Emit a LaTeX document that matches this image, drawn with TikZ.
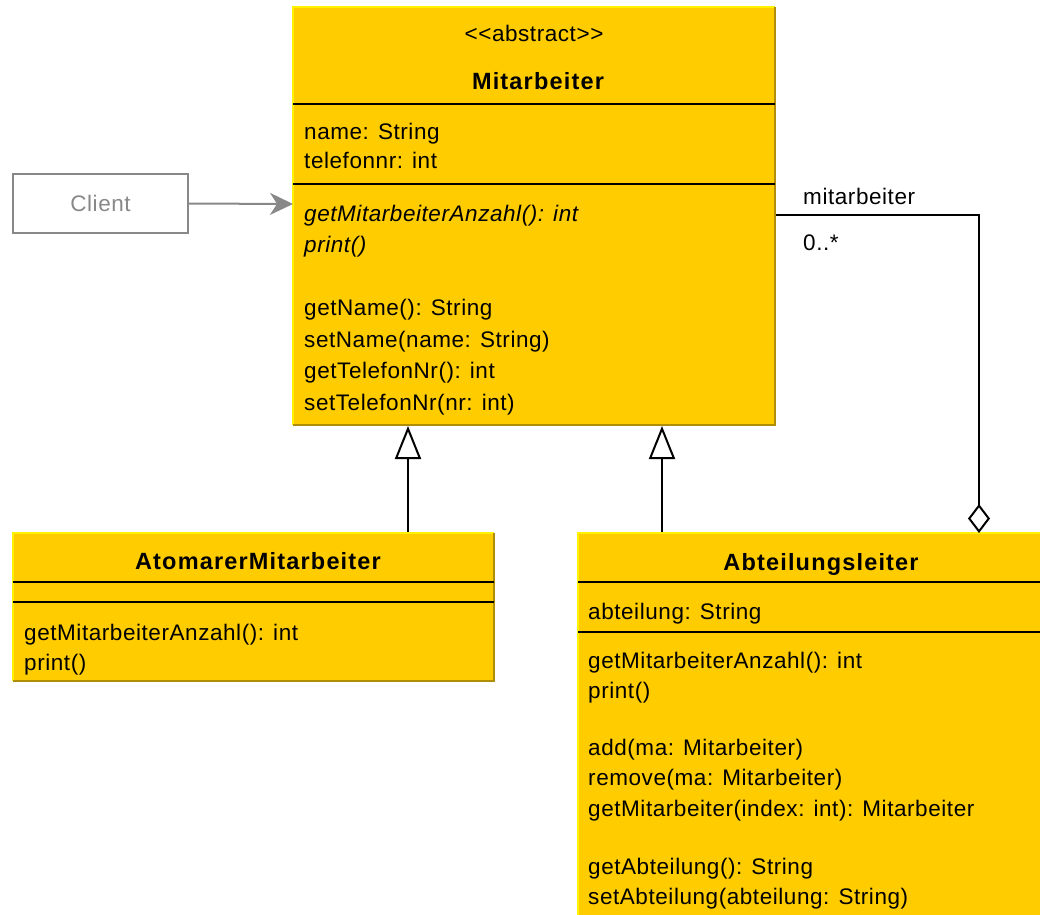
\documentclass[tikz,border=0pt]{standalone}
\usepackage{fontspec}
\setmainfont{Liberation Sans}
\newfontfamily\umlreg[LetterSpace=2.5]{Liberation Sans}
\newfontfamily\umlbold[LetterSpace=5]{Liberation Sans Bold}
\usetikzlibrary{arrows.meta}
\definecolor{umlfill}{HTML}{FFCC00}
\definecolor{hilite}{HTML}{FFF200}
\definecolor{darkedge}{HTML}{B08E08}
\definecolor{clientgray}{HTML}{888888}
\begin{document}
\begin{tikzpicture}[x=1pt,y=-1pt,
  classbox/.style={anchor=north west, fill=umlfill, draw=none, inner sep=0pt, outer sep=0pt},
  txt/.style={anchor=base west, inner sep=0pt, font=\fontsize{22.5}{26}\umlreg},
  itxt/.style={txt, font=\fontsize{22.5}{26}\umlreg\itshape},
  ctxt/.style={anchor=base, inner sep=0pt, font=\fontsize{22.5}{26}\umlreg},
  btxt/.style={anchor=base, inner sep=0pt, font=\fontsize{23.5}{27}\umlbold},
  divider/.style={line width=2pt, black},
  hiedge/.style={line width=2pt, hilite},
  dkedge/.style={line width=2.5pt, darkedge},
  conn/.style={line width=2pt, black},
  gen/.style={conn, -{Triangle[open, length=33pt, width=26pt, fill=white]}},
  agg/.style={conn, -{Diamond[open, length=29pt, width=22pt, fill=white]}},
  dep/.style={line width=2pt, clientgray, -{Stealth[length=23pt, width=22pt, inset=7pt]}},
]
\useasboundingbox (0,0) rectangle (1040,914);
\clip (0,0) rectangle (1040,914);

% ---------- Mitarbeiter ----------
\node[classbox, minimum width=482pt, minimum height=418pt] (mit) at (293,7) {};
\draw[hiedge] (mit.south west) -- (mit.north west) -- (mit.north east);
\draw[dkedge] (mit.north east) -- (mit.south east) -- (mit.south west);
\draw[divider] (293,104) -- (775,104);
\draw[divider] (293,184) -- (775,184);
\node[ctxt] (mitst) at (534,41) {{<}{<}abstract{>}{>}};
\node[btxt] (mitname) at (538,89) {Mitarbeiter};
\node[txt] (ma1) at (304,139) {name: String};
\node[txt] (ma2) at (304,168) {telefonnr: int};
\node[itxt] (mm1) at (304,221) {getMitarbeiterAnzahl(): int};
\node[itxt] (mm2) at (304,252) {print()};
\node[txt] (mm3) at (304,315) {getName(): String};
\node[txt] (mm4) at (304,347) {setName(name: String)};
\node[txt] (mm5) at (304,378) {getTelefonNr(): int};
\node[txt] (mm6) at (304,410) {setTelefonNr(nr: int)};

% ---------- Client ----------
\node[draw=clientgray, line width=2pt, minimum width=175pt, minimum height=59pt,
      inner sep=0pt, text=clientgray, font=\fontsize{22.5}{26}\umlreg] (client) at (100.5,203.5) {Client};
\coordinate (mitin) at (293,204);
\draw[dep] (client.east) -- (mitin);

% ---------- AtomarerMitarbeiter ----------
\node[classbox, minimum width=481pt, minimum height=148pt] (atom) at (13,533) {};
\draw[hiedge] (atom.south west) -- (atom.north west) -- (atom.north east);
\draw[dkedge] (atom.north east) -- (atom.south east) -- (atom.south west);
\draw[divider] (13,582) -- (494,582);
\draw[divider] (13,602) -- (494,602);
\node[btxt] (atomname) at (258,569) {AtomarerMitarbeiter};
\node[txt] (am1) at (24,640) {getMitarbeiterAnzahl(): int};
\node[txt] (am2) at (24,670) {print()};

% ---------- Abteilungsleiter ----------
\node[classbox, minimum width=480pt, minimum height=420pt] (abt) at (578,533) {};
\draw[hiedge] (abt.south west) -- (abt.north west) -- (abt.north east);
\draw[divider] (578,582) -- (1058,582);
\draw[divider] (578,632) -- (1058,632);
\node[btxt] (abtname) at (821,570) {Abteilungsleiter};
\node[txt] (aa1) at (588,619) {abteilung: String};
\node[txt] (ab1) at (588,668) {getMitarbeiterAnzahl(): int};
\node[txt] (ab2) at (588,698) {print()};
\node[txt] (ab3) at (588,755) {add(ma: Mitarbeiter)};
\node[txt] (ab4) at (588,785) {remove(ma: Mitarbeiter)};
\node[txt] (ab5) at (588,816) {getMitarbeiter(index: int): Mitarbeiter};
\node[txt] (ab6) at (588,874) {getAbteilung(): String};
\node[txt] (ab7) at (588,904) {setAbteilung(abteilung: String)};

% ---------- Connectors ----------
\coordinate (g1top) at (408,426);
\coordinate (g1bot) at (408,532);
\coordinate (g2top) at (662,426);
\coordinate (g2bot) at (662,532);
\draw[gen] (g1bot) -- (g1top);
\draw[gen] (g2bot) -- (g2top);

\coordinate (assocstart) at (776,215);
\coordinate (assocbend) at (979,215);
\coordinate (assocend) at (979,533);
\draw[agg] (assocstart) -- (assocbend) -- (assocend);
\node[txt] (rolename) at (803,204) {mitarbeiter};
\node[txt] (mult) at (803,250) {0..*};
\end{tikzpicture}
\end{document}
